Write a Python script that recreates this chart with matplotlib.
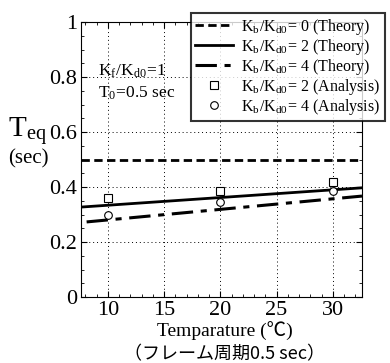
import numpy as np
import matplotlib.pyplot as plt
from matplotlib.ticker import MultipleLocator

# theory lines (temperature vs equivalent period)
temp_line = [7.6, 32.6]
teq_k0 = [0.5, 0.5]
temp_k4 = [8.1, 32.6]
teq_k2 = [0.327, 0.397]
teq_k4 = [0.273, 0.367]

# analysis points
temp_pts = [10, 20, 30]
teq_a2 = [0.36, 0.385, 0.418]
teq_a4 = [0.298, 0.345, 0.385]

serif = ['Liberation Serif', 'Noto Sans CJK JP']
plt.rcParams['font.family'] = serif
plt.rcParams['mathtext.fontset'] = 'stix'

fig = plt.figure(figsize=(3.9, 3.63), dpi=100)
ax = fig.add_axes([81 / 390, 1 - 297 / 363, 281 / 390, 275 / 363])

ax.plot(temp_line, teq_k0, color='black', lw=2, ls=(0, (3, 1.6)),
        label=r'K$_\mathregular{b}$/K$_\mathregular{d0}$= 0 (Theory)')
ax.plot(temp_line, teq_k2, color='black', lw=2,
        label=r'K$_\mathregular{b}$/K$_\mathregular{d0}$= 2 (Theory)')
ax.plot(temp_k4, teq_k4, color='black', lw=2.2, ls=(0, (7, 2.5, 2, 2.5)),
        label=r'K$_\mathregular{b}$/K$_\mathregular{d0}$= 4 (Theory)')
ax.plot(temp_pts, teq_a2, ls='none', marker='s', mfc='white', mec='black',
        mew=0.8, ms=5.5, label=r'K$_\mathregular{b}$/K$_\mathregular{d0}$= 2 (Analysis)')
ax.plot(temp_pts, teq_a4, ls='none', marker='o', mfc='white', mec='black',
        mew=0.8, ms=5.5, label=r'K$_\mathregular{b}$/K$_\mathregular{d0}$= 4 (Analysis)')

ax.set_xlim(7.6, 32.6)
ax.set_ylim(0, 1)
ax.xaxis.set_minor_locator(MultipleLocator(1))
ax.yaxis.set_minor_locator(MultipleLocator(0.05))
ax.set_xticks([10, 15, 20, 25, 30])
ax.set_yticks([0, 0.2, 0.4, 0.6, 0.8, 1.0])
ax.set_yticklabels(['0', '0.2', '0.4', '0.6', '0.8', '1'])
ax.tick_params(which='both', direction='in', top=True, right=True)
ax.tick_params(which='major', length=4, labelsize=16, pad=3)
ax.tick_params(which='minor', length=2)
ax.grid(True, which='major', color='black', ls=(0, (1, 3)), lw=0.7)

ax.text(0.06, 0.82, r'K$_\mathregular{f}$/K$_\mathregular{d0}$=1', transform=ax.transAxes,
        fontsize=12.5, va='center')
ax.text(0.06, 0.74, r'T$_\mathregular{0}$=0.5 sec', transform=ax.transAxes,
        fontsize=12.5, va='center')

fig.text(8 / 390, 1 - 132 / 363, r'T$_\mathregular{eq}$', fontsize=21, va='center')
fig.text(8 / 390, 1 - 159 / 363, '(sec)', fontsize=15, va='center')

fig.text(225 / 390, 1 - 331 / 363, 'Temparature (℃)', fontsize=14, ha='center',
         va='center', family=serif)
fig.text(225 / 390, 1 - 354 / 363, '（フレーム周期0.5 sec）', fontsize=13,
         ha='center', va='center', family=['Noto Sans CJK JP', 'Liberation Serif'])

leg = fig.legend(loc='upper left', bbox_to_anchor=(191 / 390, 1 - 13 / 363),
                 fontsize=11.5, frameon=True, fancybox=False, edgecolor='black',
                 handlelength=2.4, labelspacing=0.0, borderpad=0.25,
                 handletextpad=0.5, borderaxespad=0.0)
leg.get_frame().set_linewidth(1.5)

fig.savefig('out.png', dpi=100)
